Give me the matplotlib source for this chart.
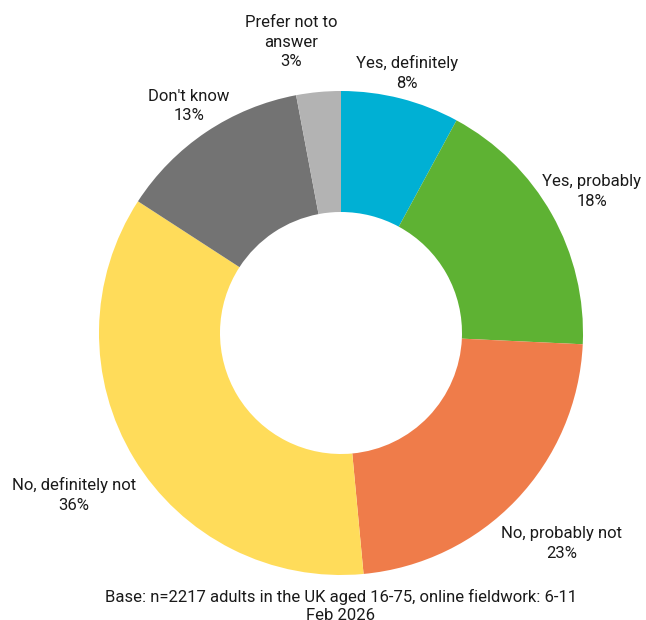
import matplotlib
matplotlib.use("Agg")
import matplotlib.pyplot as plt
import numpy as np

# Survey responses, share of adults (%)
categories = [
    "Yes, definitely",
    "Yes, probably",
    "No, probably not",
    "No, definitely not",
    "Don't know",
    "Prefer not to\nanswer",
]
shares = [8, 18, 23, 36, 13, 3]

colors = ["#00B0D4", "#5EB233", "#EF7C4A", "#FFDC5A", "#737373", "#B3B3B3"]
# label placement: distance in outer radii, and angle nudge in degrees
label_radius = [1.11, 1.19, 1.26, 1.29, 1.13, 1.22]
label_nudge = [0, 0, 0, 0, 0, 4.4]

footnote = "Base: n=2217 adults in the UK aged 16-75, online fieldwork: 6-11\nFeb 2026"

plt.rcParams["font.family"] = ["Roboto", "DejaVu Sans"]

W, H = 646, 620
fig = plt.figure(figsize=(W / 100, H / 100), dpi=100)
ax = fig.add_axes([0, 0, 1, 1])

wedges, _ = ax.pie(
    shares,
    colors=colors,
    startangle=90,
    counterclock=False,
    radius=1.0,
    wedgeprops=dict(width=0.5, linewidth=0),
)

# pixel geometry of the ring (pie() resets limits, so set them afterwards)
cx, cy, R = 341, 333, 242
ax.set_xlim(-cx / R, (W - cx) / R)
ax.set_ylim(-(H - cy) / R, cy / R)
ax.set_aspect("equal")
ax.axis("off")

for w, cat, val, r, nudge in zip(wedges, categories, shares, label_radius, label_nudge):
    mid = np.deg2rad((w.theta1 + w.theta2) / 2 + nudge)
    ax.text(r * np.cos(mid), r * np.sin(mid), f"{cat}\n{val}%",
            ha="center", va="center", fontsize=12, linespacing=1.4,
            color="#1a1a1a")

fig.text(cx / W, 1 - 589 / H, footnote, ha="center", va="top",
         fontsize=12, linespacing=1.25, color="#1a1a1a")

fig.savefig("out.png", dpi=100)
